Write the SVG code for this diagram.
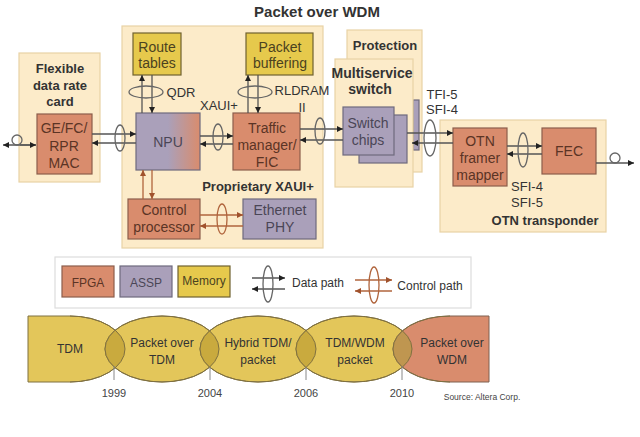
<svg xmlns="http://www.w3.org/2000/svg" width="640" height="437" viewBox="0 0 640 437">
<style>
text{font-family:"Liberation Sans",Arial,sans-serif;text-anchor:middle;fill:#333}
.b{font-weight:bold}
.t14{font-size:14px}
.t13{font-size:13px}
.t12{font-size:12px}
.tan{fill:#fcebc9;stroke:#e8d2a6;stroke-width:1.2}
.fpga{fill:#d98c6d;stroke:#8c5e4c;stroke-width:1.2}
.assp{fill:#aaa0ba;stroke:#6e6a7e;stroke-width:1.2}
.mem{fill:#e6c94c;stroke:#6f6230;stroke-width:1.2}
.ft{fill:#5b3425}
.at{fill:#4a4656}
.mt{fill:#4b4220}
.d{stroke:#555;stroke-width:1.3;fill:none}
.de{stroke:#666;stroke-width:1.3;fill:none}
.c{stroke:#b0643c;stroke-width:1.3;fill:none}
.ce{stroke:#b0643c;stroke-width:1.3;fill:none}
.y{fill:#e3c65a;stroke:#7f7040;stroke-width:1}
.ov{fill:#c9aa3e}
.yr{font-size:11px;fill:#444}
</style>
<defs>
<marker id="ad" viewBox="0 0 10 10" refX="10" refY="5" markerUnits="userSpaceOnUse" markerWidth="7" markerHeight="6" orient="auto-start-reverse"><path d="M0,0L10,5L0,10z" fill="#222"/></marker>
<marker id="ac" viewBox="0 0 10 10" refX="10" refY="5" markerUnits="userSpaceOnUse" markerWidth="7" markerHeight="6" orient="auto-start-reverse"><path d="M0,0L10,5L0,10z" fill="#a0522d"/></marker>
<linearGradient id="npu" x1="0" y1="0" x2="1" y2="0">
<stop offset="0.5" stop-color="#aaa0ba"/><stop offset="1" stop-color="#d98c6d"/></linearGradient>
<clipPath id="c1"><path d="M28,316H70A55,33 0 0 1 70,382H28Z"/></clipPath>
<clipPath id="c2"><ellipse cx="162" cy="349" rx="57" ry="33"/></clipPath>
<clipPath id="c3"><ellipse cx="258" cy="349" rx="58" ry="33"/></clipPath>
<clipPath id="c4"><ellipse cx="354" cy="349" rx="58" ry="33"/></clipPath>
</defs>

<text class="b" x="317" y="17" style="font-size:15px">Packet over WDM</text>

<g id="flex-card">
<rect class="tan" x="19" y="53" width="81" height="129"/>
<text class="b t13" x="60" y="73">Flexible</text>
<text class="b t13" x="60" y="90">data rate</text>
<text class="b t13" x="60" y="106">card</text>
</g>
<g id="mac">
<rect class="fpga" x="37" y="114" width="55" height="60"/>
<text class="t14 ft" x="64" y="133">GE/FC/</text>
<text class="t14 ft" x="64" y="151">RPR</text>
<text class="t14 ft" x="64" y="168">MAC</text>
</g>

<g id="main-card">
<rect class="tan" x="122" y="26" width="201" height="222"/>
<text class="b t13" x="258" y="191">Proprietary XAUI+</text>
<text class="t13" x="181" y="97">QDR</text>
<text class="t13" x="219" y="110">XAUI+</text>
<text class="t13" x="302" y="95">RLDRAM</text>
<text class="t13" x="302" y="112">II</text>
</g>
<g id="route-tables">
<rect class="mem" x="133" y="33" width="48" height="42"/>
<text class="t14 mt" x="157" y="52">Route</text>
<text class="t14 mt" x="157" y="68">tables</text>
</g>
<g id="packet-buffering">
<rect class="mem" x="246" y="33" width="67" height="42"/>
<text class="t14 mt" x="280" y="52">Packet</text>
<text class="t14 mt" x="280" y="68">buffering</text>
</g>
<g id="npu-node">
<rect x="136" y="113" width="64" height="57" fill="url(#npu)" stroke="#6e6a7e" stroke-width="1.2"/>
<text class="t14 at" x="168" y="147">NPU</text>
</g>
<g id="traffic-manager">
<rect class="fpga" x="233" y="113" width="67" height="57"/>
<text class="t14 ft" x="267" y="133">Traffic</text>
<text class="t14 ft" x="267" y="150">manager/</text>
<text class="t14 ft" x="267" y="167">FIC</text>
</g>
<g id="control-processor">
<rect class="fpga" x="128" y="199" width="72" height="40"/>
<text class="t14 ft" x="164" y="215">Control</text>
<text class="t14 ft" x="164" y="232">processor</text>
</g>
<g id="ethernet-phy">
<rect class="assp" x="243" y="199" width="73" height="40"/>
<text class="t14 at" x="280" y="215">Ethernet</text>
<text class="t14 at" x="280" y="232">PHY</text>
</g>

<g id="protection">
<rect class="tan" x="347" y="30" width="75" height="142"/>
<rect class="assp" x="413" y="100" width="6" height="50"/>
<text class="b t13" x="385" y="50">Protection</text>
</g>
<g id="multiservice-switch">
<rect class="tan" x="335" y="59" width="78" height="128"/>
<text class="b t14" x="372" y="78">Multiservice</text>
<text class="b t14" x="370" y="94">switch</text>
</g>
<g id="switch-chips">
<rect class="assp" x="359" y="115" width="48" height="48"/>
<rect class="assp" x="343" y="107" width="51" height="48"/>
<text class="t14 at" x="368" y="128">Switch</text>
<text class="t14 at" x="368" y="145">chips</text>
</g>
<text class="t13" x="442" y="99">TFI-5</text>
<text class="t13" x="442" y="114">SFI-4</text>

<g id="otn-transponder">
<rect class="tan" x="440" y="120" width="166" height="112"/>
<text class="t13" x="527" y="191">SFI-4</text>
<text class="t13" x="527" y="207">SFI-5</text>
<text class="b t13" x="545" y="225">OTN transponder</text>
</g>
<g id="otn-framer">
<rect class="fpga" x="453" y="128" width="54" height="58"/>
<text class="t14 ft" x="480" y="146">OTN</text>
<text class="t14 ft" x="480" y="163">framer</text>
<text class="t14 ft" x="480" y="180">mapper</text>
</g>
<g id="fec">
<rect class="fpga" x="542" y="128" width="54" height="46"/>
<text class="t14 ft" x="569" y="156">FEC</text>
</g>

<g id="connectors">
<line class="d" x1="36" y1="145" x2="3" y2="145" marker-end="url(#ad)"/>
<line class="d" x1="20" y1="145" x2="36" y2="145" marker-end="url(#ad)"/>
<circle class="de" cx="17" cy="140" r="5"/>
<line class="d" x1="92" y1="134" x2="136" y2="134" marker-end="url(#ad)"/>
<line class="d" x1="136" y1="143" x2="92" y2="143" marker-end="url(#ad)"/>
<ellipse class="de" cx="120" cy="138" rx="5" ry="13"/>
<line class="d" x1="200" y1="136" x2="233" y2="136" marker-end="url(#ad)"/>
<line class="d" x1="233" y1="144" x2="200" y2="144" marker-end="url(#ad)"/>
<ellipse class="de" cx="218" cy="137" rx="5" ry="13"/>
<line class="d" x1="300" y1="129" x2="343" y2="129" marker-end="url(#ad)"/>
<line class="d" x1="343" y1="140" x2="300" y2="140" marker-end="url(#ad)"/>
<ellipse class="de" cx="320" cy="131" rx="5" ry="13"/>
<line class="d" x1="407" y1="133" x2="453" y2="133" marker-end="url(#ad)"/>
<line class="d" x1="453" y1="143" x2="412" y2="143" marker-end="url(#ad)"/>
<ellipse class="de" cx="430" cy="138" rx="6" ry="18"/>
<line class="d" x1="507" y1="146" x2="542" y2="146" marker-end="url(#ad)"/>
<line class="d" x1="542" y1="154" x2="507" y2="154" marker-end="url(#ad)"/>
<ellipse class="de" cx="523" cy="150" rx="5" ry="17"/>
<line class="d" x1="596" y1="163" x2="634" y2="163" marker-end="url(#ad)"/>
<circle class="de" cx="615" cy="158" r="5"/>
<line class="d" x1="142" y1="113" x2="142" y2="75" marker-end="url(#ad)"/>
<line class="d" x1="152" y1="75" x2="152" y2="113" marker-end="url(#ad)"/>
<ellipse class="de" cx="146" cy="92" rx="17" ry="6"/>
<line class="d" x1="248" y1="113" x2="248" y2="75" marker-end="url(#ad)"/>
<line class="d" x1="258" y1="75" x2="258" y2="113" marker-end="url(#ad)"/>
<ellipse class="de" cx="255" cy="92" rx="17" ry="6"/>
<line class="c" x1="143" y1="199" x2="143" y2="170" marker-end="url(#ac)"/>
<line class="c" x1="152" y1="170" x2="152" y2="199" marker-end="url(#ac)"/>
<line class="c" x1="200" y1="215" x2="243" y2="215" marker-end="url(#ac)"/>
<line class="c" x1="243" y1="226" x2="200" y2="226" marker-end="url(#ac)"/>
<ellipse class="ce" cx="222" cy="219" rx="5" ry="15"/>
</g>

<g id="legend">
<rect x="55" y="257" width="416" height="51" fill="#fff" stroke="#ddd" stroke-width="1.2"/>
<rect class="fpga" x="62" y="266" width="52" height="31"/>
<text class="t12 ft" x="88" y="287">FPGA</text>
<rect class="assp" x="120" y="266" width="52" height="31"/>
<text class="t12 at" x="146" y="287">ASSP</text>
<rect class="mem" x="178" y="266" width="52" height="31"/>
<text class="t12 mt" x="204" y="285">Memory</text>
<line class="d" x1="252" y1="278" x2="285" y2="278" marker-end="url(#ad)"/>
<line class="d" x1="285" y1="289" x2="252" y2="289" marker-end="url(#ad)"/>
<ellipse class="de" cx="268" cy="284" rx="5" ry="18"/>
<text class="t12" x="318" y="287" fill="#444">Data path</text>
<line class="c" x1="355" y1="280" x2="392" y2="280" marker-end="url(#ac)"/>
<line class="c" x1="392" y1="291" x2="355" y2="291" marker-end="url(#ac)"/>
<ellipse class="ce" cx="374" cy="285" rx="5" ry="18"/>
<text class="t12" x="430" y="290" fill="#444">Control path</text>
</g>

<g id="timeline">
<path class="y" d="M28,316H70A55,33 0 0 1 70,382H28Z"/>
<ellipse class="y" cx="162" cy="349" rx="57" ry="33"/>
<ellipse class="y" cx="258" cy="349" rx="58" ry="33"/>
<ellipse class="y" cx="354" cy="349" rx="58" ry="33"/>
<path d="M489,316H450A57,33 0 0 0 450,382H489Z" fill="#d98c6d" stroke="#7f6050" stroke-width="1"/>
<ellipse class="ov" cx="162" cy="349" rx="57" ry="33" clip-path="url(#c1)"/>
<ellipse class="ov" cx="258" cy="349" rx="58" ry="33" clip-path="url(#c2)"/>
<ellipse class="ov" cx="354" cy="349" rx="58" ry="33" clip-path="url(#c3)"/>
<path d="M489,316H450A57,33 0 0 0 450,382H489Z" fill="#bf9650" clip-path="url(#c4)"/>
<g fill="none" stroke="#7f7040" stroke-width="1">
<path d="M70,316A55,33 0 0 1 70,382"/>
<ellipse cx="162" cy="349" rx="57" ry="33"/>
<ellipse cx="258" cy="349" rx="58" ry="33"/>
<ellipse cx="354" cy="349" rx="58" ry="33"/>
<path d="M450,316A57,33 0 0 0 450,382"/>
</g>
<g stroke="#888" stroke-width="1">
<line x1="114" y1="366" x2="114" y2="380"/>
<line x1="210" y1="367" x2="210" y2="380"/>
<line x1="306" y1="367" x2="306" y2="380"/>
<line x1="402" y1="366" x2="402" y2="380"/>
</g>
<text class="t12" x="70" y="353">TDM</text>
<text class="t12" x="162" y="347">Packet over</text>
<text class="t12" x="162" y="364">TDM</text>
<text class="t12" x="258" y="347">Hybrid TDM/</text>
<text class="t12" x="258" y="364">packet</text>
<text class="t12" x="355" y="347">TDM/WDM</text>
<text class="t12" x="355" y="364">packet</text>
<text class="t12" x="452" y="347">Packet over</text>
<text class="t12" x="452" y="364">WDM</text>
<text class="yr" x="114" y="397">1999</text>
<text class="yr" x="210" y="397">2004</text>
<text class="yr" x="306" y="397">2006</text>
<text class="yr" x="402" y="397">2010</text>
<text x="482" y="400" style="font-size:8.5px;fill:#444">Source: Altera Corp.</text>
</g>
</svg>
